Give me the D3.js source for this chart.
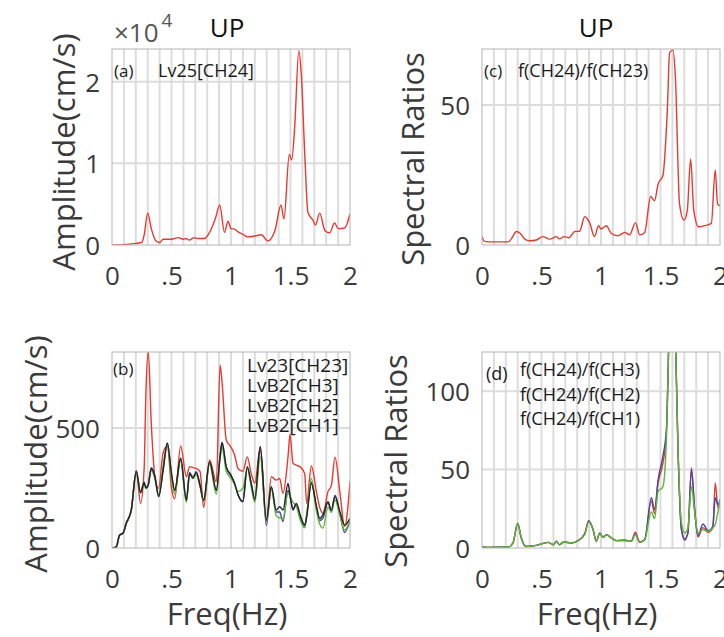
<!DOCTYPE html>
<html>
<head>
<meta charset="utf-8">
<script src="https://cdn.jsdelivr.net/npm/d3@7"></script>
<style>
body { margin: 0; background: #fff; }
text { font-family: "Open Sans", sans-serif; }
</style>
</head>
<body>
<div id="chart"></div>
<script>
const width = 724
const height = 637

// (a) Lv25[CH24] amplitude, units of 1e4 cm/s
const freqA = [0, 0.1, 0.2, 0.25, 0.27, 0.3, 0.33, 0.37, 0.4, 0.43, 0.5, 0.555, 0.6, 0.62, 0.65, 0.69, 0.72, 0.78, 0.81, 0.835, 0.87, 0.905, 0.945, 0.975, 1.0, 1.03, 1.06, 1.1, 1.14, 1.2, 1.255, 1.31, 1.37, 1.42, 1.445, 1.49, 1.51, 1.535, 1.57, 1.59, 1.62, 1.646, 1.69, 1.71, 1.745, 1.79, 1.83, 1.87, 1.9, 1.955, 2.0];
const ampA = [0, 0.005, 0.02, 0.03, 0.12, 0.39, 0.2, 0.05, 0.03, 0.07, 0.07, 0.09, 0.07, 0.08, 0.06, 0.09, 0.08, 0.08, 0.13, 0.2, 0.33, 0.49, 0.155, 0.29, 0.2, 0.195, 0.16, 0.13, 0.1, 0.11, 0.125, 0.05, 0.18, 0.49, 0.32, 1.11, 1.04, 1.44, 2.38, 2.1, 1.11, 0.4, 0.3, 0.245, 0.39, 0.175, 0.15, 0.27, 0.2, 0.21, 0.38];

// (c) f(CH24)/f(CH23)
const freqC = [0, 0.02, 0.1, 0.22, 0.245, 0.29, 0.32, 0.36, 0.4, 0.457, 0.51, 0.57, 0.625, 0.65, 0.69, 0.73, 0.78, 0.82, 0.863, 0.905, 0.945, 0.98, 1.0, 1.045, 1.085, 1.14, 1.2, 1.24, 1.29, 1.325, 1.367, 1.417, 1.45, 1.48, 1.52, 1.557, 1.577, 1.605, 1.625, 1.66, 1.697, 1.725, 1.753, 1.78, 1.82, 1.87, 1.927, 1.96, 1.98, 2.0];
const ratioC = [3.0, 1.3, 1.1, 1.1, 2.1, 4.8, 4.2, 2.1, 1.5, 1.8, 3.0, 2.1, 3.0, 2.2, 3.0, 2.6, 4.8, 4.9, 10.1, 7.9, 3.0, 6.9, 5.7, 6.9, 4.2, 3.3, 4.5, 3.6, 8.0, 3.6, 4.5, 17.3, 15.8, 21.8, 24.8, 48, 68.8, 69.6, 60, 14.6, 8.9, 12.3, 30.7, 12.3, 6.5, 6.9, 7.7, 26.8, 14.6, 14];

// (b) amplitudes, cm/s
const freqB = [0, 0.036, 0.064, 0.092, 0.12, 0.162, 0.204, 0.24, 0.27, 0.285, 0.305, 0.33, 0.36, 0.392, 0.43, 0.465, 0.5, 0.527, 0.577, 0.625, 0.652, 0.68, 0.708, 0.74, 0.77, 0.82, 0.877, 0.908, 0.925, 0.96, 1.0, 1.03, 1.06, 1.1, 1.137, 1.17, 1.2, 1.246, 1.297, 1.339, 1.38, 1.409, 1.437, 1.479, 1.496, 1.521, 1.549, 1.58, 1.619, 1.636, 1.675, 1.72, 1.745, 1.773, 1.815, 1.843, 1.874, 1.916, 1.955, 2.0];
const ampB_CH23 = [0, 5, 54, 61, 103, 160, 320, 186, 330, 650, 817, 520, 300, 249, 398, 425, 250, 205, 425, 297, 339, 335, 332, 318, 169, 367, 276, 762, 690, 450, 420, 388, 330, 320, 380, 310, 270, 422, 110, 297, 283, 290, 228, 380, 474, 353, 345, 339, 311, 186, 342, 228, 170, 144, 235, 260, 378, 228, 89, 276];
const ampB_CH3 = [0, 5, 54, 61, 103, 158, 322, 232, 275, 252, 268, 335, 300, 216, 330, 438, 305, 238, 370, 198, 315, 295, 318, 262, 198, 355, 238, 385, 440, 335, 300, 268, 222, 195, 335, 265, 200, 415, 95, 250, 150, 150, 110, 240, 215, 165, 180, 130, 85, 135, 275, 160, 115, 125, 190, 150, 220, 140, 65, 115];
const ampB_CH2 = [0, 5, 54, 61, 103, 158, 315, 235, 268, 248, 265, 325, 290, 222, 340, 430, 290, 225, 365, 190, 305, 300, 305, 255, 195, 350, 225, 370, 420, 320, 290, 265, 235, 249, 330, 255, 190, 380, 110, 245, 135, 125, 124, 230, 215, 190, 175, 120, 85, 140, 290, 150, 100, 83, 170, 150, 200, 135, 75, 120];
const ampB_CH1 = [0, 5, 54, 61, 103, 158, 318, 230, 272, 250, 262, 332, 297, 214, 325, 436, 311, 242, 374, 200, 311, 290, 314, 260, 200, 360, 242, 380, 439, 339, 304, 270, 220, 193, 339, 270, 203, 422, 117, 256, 158, 172, 158, 269, 220, 158, 186, 140, 96, 130, 269, 170, 124, 138, 193, 158, 214, 150, 96, 124];

// (d) spectral ratios
const freqD = [0, 0.05, 0.22, 0.26, 0.3, 0.33, 0.37, 0.457, 0.555, 0.6, 0.625, 0.65, 0.69, 0.75, 0.807, 0.863, 0.896, 0.933, 0.96, 0.99, 1.017, 1.045, 1.087, 1.13, 1.2, 1.255, 1.288, 1.325, 1.367, 1.423, 1.45, 1.48, 1.52, 1.549, 1.577, 1.6, 1.62, 1.647, 1.675, 1.703, 1.73, 1.76, 1.787, 1.815, 1.857, 1.9, 1.94, 1.96, 1.983, 2.0];
const ratioD_CH3 = [1, 0.4, 0.6, 3.2, 15.5, 6.4, 1, 1.7, 3.6, 2.1, 4.3, 2.1, 3.8, 3.2, 4.7, 9, 16.8, 12, 4.3, 9.6, 6.8, 8.5, 6.4, 4.7, 5.2, 4.3, 10, 3.8, 5.3, 30, 22, 41.5, 54, 72, 150, 170, 150, 64, 13, 6, 9, 51, 24, 7, 13, 10, 13, 41.5, 25.5, 27.6];
const ratioD_CH2 = [1, 0.4, 0.6, 3.2, 15.5, 6.4, 1, 1.7, 3.6, 2.1, 4.3, 2.1, 3.8, 3.2, 4.7, 9, 17.4, 12, 4.3, 9.6, 6.8, 8.5, 6.4, 4.7, 4.8, 4.3, 9, 3.8, 5.3, 32, 24.5, 43.6, 58.5, 75, 150, 170, 150, 62, 12, 5, 10, 50, 25, 8, 15.3, 11, 14, 32, 27.6, 31];
const ratioD_CH1 = [1, 0.4, 0.6, 3.2, 16, 6.4, 1, 1.7, 3.6, 2.1, 4.3, 2.1, 3.8, 3.2, 4.7, 8.5, 16.6, 11.7, 4.3, 9.6, 6.8, 8.5, 6.4, 4.7, 4.7, 4.3, 8.5, 3.8, 5.3, 23, 18.7, 36, 39, 68, 150, 170, 150, 64, 17, 9.6, 12.8, 39, 23, 9.6, 11.7, 10.6, 12.8, 15, 23, 30];

const xTicks = [0, 0.5, 1, 1.5, 2];
const xTickLabels = ['0', '.5', '1', '1.5', '2'];

const red = '#e8392f', blue = '#4646a6', green = '#5cb634', black = '#222222';
const txt = '#3a3a3a';

const svg = d3.select('#chart').append('svg').attr('width', width).attr('height', height);

let clipId = 0;

function panel(p) {
  const x = d3.scaleLinear().domain([0, 2]).range([p.x0, p.x1]);
  const y = d3.scaleLinear().domain([0, p.yMax]).range([p.y1, p.y0]);
  const g = svg.append('g');

  // grid
  g.append('g').selectAll('line').data(d3.range(1, 20).map(i => i / 10))
    .enter().append('line')
    .attr('x1', d => x(d)).attr('x2', d => x(d))
    .attr('y1', p.y0).attr('y2', p.y1)
    .attr('stroke', '#dcdcdc').attr('stroke-width', 2);
  g.append('g').selectAll('line').data(p.yTicks.filter(t => t > 0))
    .enter().append('line')
    .attr('x1', p.x0).attr('x2', p.x1)
    .attr('y1', d => y(d)).attr('y2', d => y(d))
    .attr('stroke', '#dcdcdc').attr('stroke-width', 2);

  // curves
  const id = 'clip' + (clipId++);
  g.append('clipPath').attr('id', id).append('rect')
    .attr('x', p.x0).attr('y', p.y0).attr('width', p.x1 - p.x0).attr('height', p.y1 - p.y0);
  const line = d3.line().x(d => x(d[0])).y(d => y(d[1])).curve(d3.curveMonotoneX);
  p.series.forEach(s => {
    g.append('path')
      .datum(s.f.map((f, i) => [f, s.v[i]]))
      .attr('clip-path', 'url(#' + id + ')')
      .attr('d', line)
      .attr('fill', 'none')
      .attr('stroke', s.color)
      .attr('stroke-width', 1.4);
  });

  // frame
  g.append('rect')
    .attr('x', p.x0).attr('y', p.y0).attr('width', p.x1 - p.x0).attr('height', p.y1 - p.y0)
    .attr('fill', 'none').attr('stroke', '#b4b4b4').attr('stroke-width', 1);

  // axes
  const xa = g.append('g').attr('transform', 'translate(0,' + p.y1 + ')')
    .call(d3.axisBottom(x).tickValues(xTicks).tickSize(0).tickFormat((d, i) => xTickLabels[i]));
  xa.select('.domain').remove();
  xa.selectAll('text').attr('y', 40).attr('dy', null)
    .attr('fill', txt).style('font-size', '26px').style('font-family', '"Open Sans", sans-serif');

  const ya = g.append('g').attr('transform', 'translate(' + p.x0 + ',0)')
    .call(d3.axisLeft(y).tickValues(p.yTicks).tickSize(0).tickFormat(p.yFormat));
  ya.select('.domain').remove();
  ya.selectAll('text').attr('x', -12).attr('dy', '0.36em')
    .attr('fill', txt).style('font-size', '26px').style('font-family', '"Open Sans", sans-serif');

  // y label
  g.append('text')
    .attr('transform', 'translate(' + p.ylabX + ',' + p.ylabY + ') rotate(-90)')
    .attr('text-anchor', 'middle')
    .attr('fill', txt)
    .style('font-size', '31px')
    .style('font-stretch', '95%')
    .text(p.ylabel);

  if (p.xlabel) {
    g.append('text')
      .attr('x', (p.x0 + p.x1) / 2 - 4).attr('y', p.y1 + 77)
      .attr('text-anchor', 'middle')
      .attr('fill', txt)
      .style('font-size', '31px')
      .text('Freq(Hz)');
  }
  if (p.title) {
    g.append('text')
      .attr('x', p.titleX).attr('y', 37)
      .attr('text-anchor', 'middle')
      .attr('fill', '#111')
      .style('font-size', '26px')
      .text(p.title);
  }
  // inside labels
  p.labels.forEach(l => {
    g.append('text').attr('x', l.x).attr('y', l.y)
      .attr('fill', '#1a1a1a')
      .style('font-size', l.size + 'px')
      .text(l.t);
  });
  return g;
}

const pa = panel({
  x0: 112, x1: 350, y0: 49, y1: 245, yMax: 2.4, yTicks: [0, 1, 2], yFormat: d3.format('d'),
  series: [{f: freqA, v: ampA, color: red}],
  ylabel: 'Amplitude(cm/s)', ylabX: 75, ylabY: 152, xlabel: false, title: 'UP', titleX: 227,
  labels: [{t: '(a)', x: 114, y: 77, size: 17}, {t: 'Lv25[CH24]', x: 158, y: 77, size: 18}]
});
// exponent
const ex = pa.append('text').attr('x', 114).attr('y', 42).attr('fill', '#555').style('font-size', '26px');
ex.append('tspan').text('\u00d710');
ex.append('tspan').attr('dx', 3).attr('dy', -15).style('font-size', '19px').text('4');

panel({
  x0: 482, x1: 720, y0: 49, y1: 245, yMax: 70, yTicks: [0, 50], yFormat: d3.format('d'),
  series: [{f: freqC, v: ratioC, color: red}],
  ylabel: 'Spectral Ratios', ylabX: 424, ylabY: 159, xlabel: false, title: 'UP', titleX: 596,
  labels: [{t: '(c)', x: 484, y: 77, size: 17}, {t: 'f(CH24)/f(CH23)', x: 518, y: 77, size: 18}]
});

panel({
  x0: 112, x1: 350, y0: 352, y1: 548, yMax: 817, yTicks: [0, 500], yFormat: d3.format('d'),
  series: [
    {f: freqB, v: ampB_CH23, color: red},
    {f: freqB, v: ampB_CH3, color: blue},
    {f: freqB, v: ampB_CH2, color: green},
    {f: freqB, v: ampB_CH1, color: black}
  ],
  ylabel: 'Amplitude(cm/s)', ylabX: 47, ylabY: 454, xlabel: true,
  labels: [{t: '(b)', x: 113, y: 375, size: 17},
    {t: 'Lv23[CH23]', x: 247, y: 372, size: 19},
    {t: 'LvB2[CH3]', x: 247, y: 392, size: 19},
    {t: 'LvB2[CH2]', x: 247, y: 412, size: 19},
    {t: 'LvB2[CH1]', x: 247, y: 432, size: 19}]
});

panel({
  x0: 482, x1: 720, y0: 352, y1: 548, yMax: 125, yTicks: [0, 50, 100], yFormat: d3.format('d'),
  series: [
    {f: freqD, v: ratioD_CH3, color: red},
    {f: freqD, v: ratioD_CH2, color: blue},
    {f: freqD, v: ratioD_CH1, color: green}
  ],
  ylabel: 'Spectral Ratios', ylabX: 407, ylabY: 461, xlabel: true,
  labels: [{t: '(d)', x: 486, y: 380, size: 18},
    {t: 'f(CH24)/f(CH3)', x: 520, y: 376, size: 18},
    {t: 'f(CH24)/f(CH2)', x: 520, y: 401, size: 18},
    {t: 'f(CH24)/f(CH1)', x: 520, y: 425, size: 18}]
});
</script>
</body>
</html>
